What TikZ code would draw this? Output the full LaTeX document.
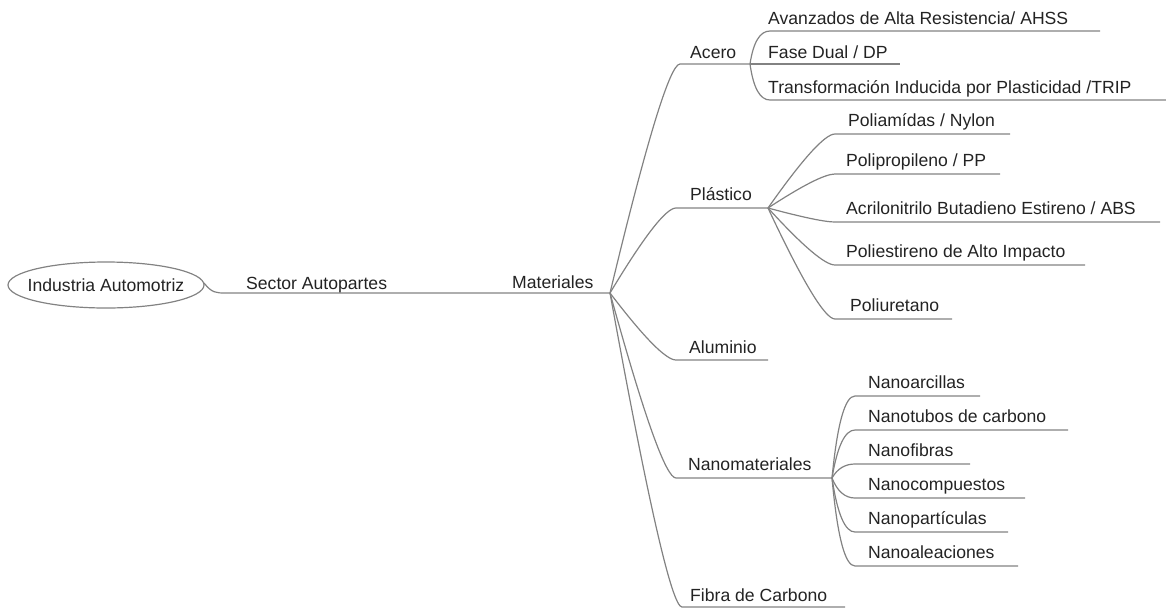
\documentclass[tikz,border=0pt]{standalone}
\usepackage{fontspec}
\setmainfont{Liberation Sans}
\usetikzlibrary{calc}
\definecolor{ln}{RGB}{130,130,130}
\definecolor{tx}{RGB}{35,35,35}
\tikzset{
  lbl/.style={anchor=base west,inner sep=0pt,text=tx,font=\fontsize{17.6}{20}\selectfont},
  conn/.style={draw=ln,line width=1.2pt},
  br/.style={to path={.. controls ($(\tikztostart)!0.6667!(\tikztotarget)+(-10,0)$) and ($(\tikztotarget)+(-10,0)$) .. (\tikztotarget)}}
}
\begin{document}
\begin{tikzpicture}[x=1pt,y=-1pt]
\useasboundingbox (0,0) rectangle (1166,608);
% root
\node[inner sep=0pt,text=tx,font=\fontsize{17.6}{20}\selectfont] (root) at (106,285) {Industria Automotriz};
\draw[conn] (root.center) ellipse [x radius=98, y radius=23];
\node[lbl] (sector) at (246,289) {Sector Autopartes};
\node[lbl] (mat) at (512,288) {Materiales};
% level 2
\node[lbl] (acero) at (690,58) {Acero};
\node[lbl] (plas) at (690,200) {Plástico};
\node[lbl] (alum) at (689,353) {Aluminio};
\node[lbl] (nano) at (688,470) {Nanomateriales};
\node[lbl] (fibra) at (690,601) {Fibra de Carbono};
% acero children
\node[lbl] (ahss) at (768,24) {Avanzados de Alta Resistencia/ AHSS};
\node[lbl] (dp) at (768,58) {Fase Dual / DP};
\node[lbl] (trip) at (768,93) {Transformación Inducida por Plasticidad /TRIP};
% plastico children
\node[lbl] (nylon) at (848,126) {Poliamídas / Nylon};
\node[lbl] (pp) at (846,166) {Polipropileno / PP};
\node[lbl] (abs) at (846,214) {Acrilonitrilo Butadieno Estireno / ABS};
\node[lbl] (psai) at (846,257) {Poliestireno de Alto Impacto};
\node[lbl] (pu) at (850,311) {Poliuretano};
% nano children
\node[lbl] (n1) at (868,388) {Nanoarcillas};
\node[lbl] (n2) at (868,422) {Nanotubos de carbono};
\node[lbl] (n3) at (868,456) {Nanofibras};
\node[lbl] (n4) at (868,490) {Nanocompuestos};
\node[lbl] (n5) at (868,524) {Nanopartículas};
\node[lbl] (n6) at (868,558) {Nanoaleaciones};
% coordinates
\coordinate (rootE) at (204,283);
\coordinate (mainS) at (226,293);
\coordinate (M) at (610,293);
\coordinate (cAc) at (680,64);  \coordinate (A) at (750,64);
\coordinate (cAh) at (770,31);  \coordinate (eAh) at (1100,31);
\coordinate (eDp) at (900,64);
\coordinate (cTr) at (770,100); \coordinate (eTr) at (1166,100);
\coordinate (cPl) at (676,208); \coordinate (P) at (768,208);
\coordinate (cNy) at (835,134); \coordinate (eNy) at (1010,134);
\coordinate (cPp) at (835,174); \coordinate (ePp) at (1000,174);
\coordinate (cAb) at (835,222); \coordinate (eAb) at (1160,222);
\coordinate (cPs) at (835,265); \coordinate (ePs) at (1085,265);
\coordinate (cPu) at (835,319); \coordinate (ePu) at (952,319);
\coordinate (cAl) at (676,360); \coordinate (eAl) at (768,360);
\coordinate (cNa) at (676,478); \coordinate (N) at (832,478);
\coordinate (c1) at (855,396); \coordinate (e1) at (980,396);
\coordinate (c2) at (855,430); \coordinate (e2) at (1068,430);
\coordinate (c3) at (855,464); \coordinate (e3) at (970,464);
\coordinate (c4) at (855,498); \coordinate (e4) at (1025,498);
\coordinate (c5) at (855,532); \coordinate (e5) at (1008,532);
\coordinate (c6) at (855,566); \coordinate (e6) at (1018,566);
\coordinate (cFi) at (682,607); \coordinate (eFi) at (845,607);
% connectors
\draw[conn] (rootE) .. controls (212,293) and (216,293) .. (mainS) -- (M);
\draw[conn] (M) to[br] (cAc) -- (A);
\draw[conn] (A) to[br] (cAh) -- (eAh);
\draw[conn] (A) -- (eDp);
\draw[conn] (A) to[br] (cTr) -- (eTr);
\draw[conn] (M) to[br] (cPl) -- (P);
\draw[conn] (P) to[br] (cNy) -- (eNy);
\draw[conn] (P) to[br] (cPp) -- (ePp);
\draw[conn] (P) to[br] (cAb) -- (eAb);
\draw[conn] (P) to[br] (cPs) -- (ePs);
\draw[conn] (P) to[br] (cPu) -- (ePu);
\draw[conn] (M) to[br] (cAl) -- (eAl);
\draw[conn] (M) to[br] (cNa) -- (N);
\draw[conn] (N) to[br] (c1) -- (e1);
\draw[conn] (N) to[br] (c2) -- (e2);
\draw[conn] (N) to[br] (c3) -- (e3);
\draw[conn] (N) to[br] (c4) -- (e4);
\draw[conn] (N) to[br] (c5) -- (e5);
\draw[conn] (N) to[br] (c6) -- (e6);
\draw[conn] (M) to[br] (cFi) -- (eFi);
\end{tikzpicture}
\end{document}
